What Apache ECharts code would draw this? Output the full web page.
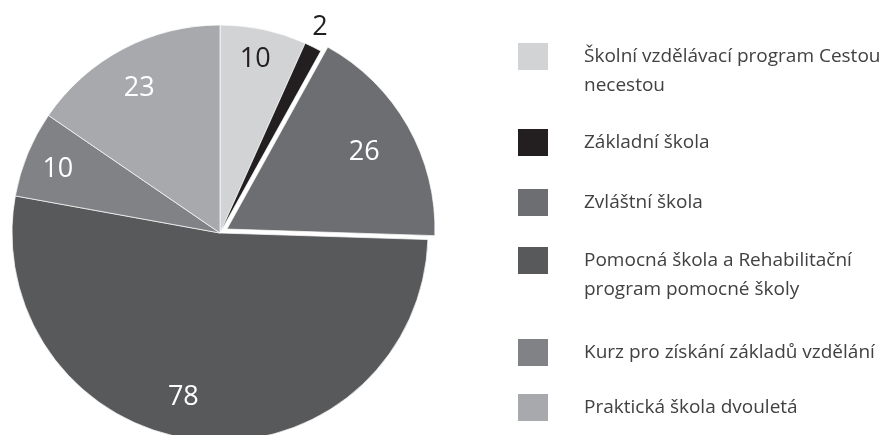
<!DOCTYPE html>
<html>
<head>
<meta charset="utf-8">
<script src="https://cdn.jsdelivr.net/npm/echarts@6/dist/echarts.min.js"></script>
<style>
html,body{margin:0;padding:0;background:#fff;}
#main{width:893px;height:435px;}
</style>
</head>
<body>
<div id="main"></div>
<script>
const categories = [
  'Školní vzdělávací program Cestou necestou',
  'Základní škola',
  'Zvláštní škola',
  'Pomocná škola a Rehabilitační program pomocné školy',
  'Kurz pro získání základů vzdělání',
  'Praktická škola dvouletá'
];
const values = [10, 2, 26, 78, 10, 23];
const legendLines = [
  ['Školní vzdělávací program Cestou', 'necestou'],
  ['Základní škola'],
  ['Zvláštní škola'],
  ['Pomocná škola a Rehabilitační', 'program pomocné školy'],
  ['Kurz pro získání základů vzdělání'],
  ['Praktická škola dvouletá']
];

// styling
const colors = ['#d1d3d4', '#231f20', '#6d6e71', '#58595b', '#808285', '#a7a9ac'];
const labelColors = ['#231f20', '#231f20', '#fff', '#fff', '#fff', '#fff'];
const labelShift = [[-2, 0], [0, 3], [-17, 11], [-18, -12], [2, 4], [2, 12]];
const explodedIndex = 2;
const legendIconTops = [42, 127, 187, 246, 337, 392];
const LINE_H = 29;

const CENTER = [220, 233];
const R = 208;

const mainData = categories.map((name, i) => ({
  name: name,
  value: values[i],
  selected: i === explodedIndex,
  itemStyle: { color: colors[i] }
}));

const labelData = categories.map((name, i) => {
  const d = {
    name: name,
    value: values[i],
    selected: i === explodedIndex,
    itemStyle: { color: 'transparent', borderWidth: 0 },
    label: { color: labelColors[i] }
  };
  if (values[i] < 5) {
    d.label = {
      color: labelColors[i],
      position: 'outside',
      distanceToLabelLine: -12
    };
    d.labelLine = { show: false, length: 25, length2: 0 };
  }
  return d;
});

// multi-line legend entries: a leading empty line keeps the first text line centred on the icon
const legends = categories.map((name, i) => {
  const lines = legendLines[i];
  const twoLine = lines.length > 1;
  const text = twoLine ? '\n' + lines.join('\n') : lines[0];
  return {
    data: [name],
    orient: 'vertical',
    left: 516,
    top: legendIconTops[i] - (twoLine ? LINE_H : 0),
    padding: 0,
    icon: 'rect',
    itemWidth: 32,
    itemHeight: 29,
    selectedMode: false,
    formatter: () => text,
    textStyle: {
      fontFamily: 'Open Sans',
      fontSize: 19,
      lineHeight: LINE_H,
      color: '#414042',
      padding: [0, 0, 0, 30]
    }
  };
});

const chart = echarts.init(document.getElementById('main'), null, { renderer: 'canvas' });
chart.setOption({
  animation: false,
  backgroundColor: '#fff',
  color: colors,
  legend: legends,
  series: [
    {
      type: 'pie',
      center: CENTER,
      radius: R,
      startAngle: 90,
      clockwise: true,
      selectedMode: 'single',
      selectedOffset: 8,
      avoidLabelOverlap: false,
      emphasis: { disabled: true },
      itemStyle: { borderColor: '#fff', borderWidth: 0.7 },
      label: { show: false },
      labelLine: { show: false },
      data: mainData
    },
    {
      type: 'pie',
      silent: true,
      center: CENTER,
      radius: [141, R],
      startAngle: 90,
      clockwise: true,
      selectedMode: 'single',
      selectedOffset: 8,
      avoidLabelOverlap: false,
      emphasis: { disabled: true },
      label: {
        show: true,
        position: 'inside',
        formatter: '{c}',
        fontFamily: 'Open Sans',
        fontSize: 27,
        fontWeight: 'normal'
      },
      labelLayout: function (p) {
        const s = labelShift[p.dataIndex];
        return { dx: s[0], dy: s[1] };
      },
      data: labelData
    }
  ]
});
</script>
</body>
</html>
